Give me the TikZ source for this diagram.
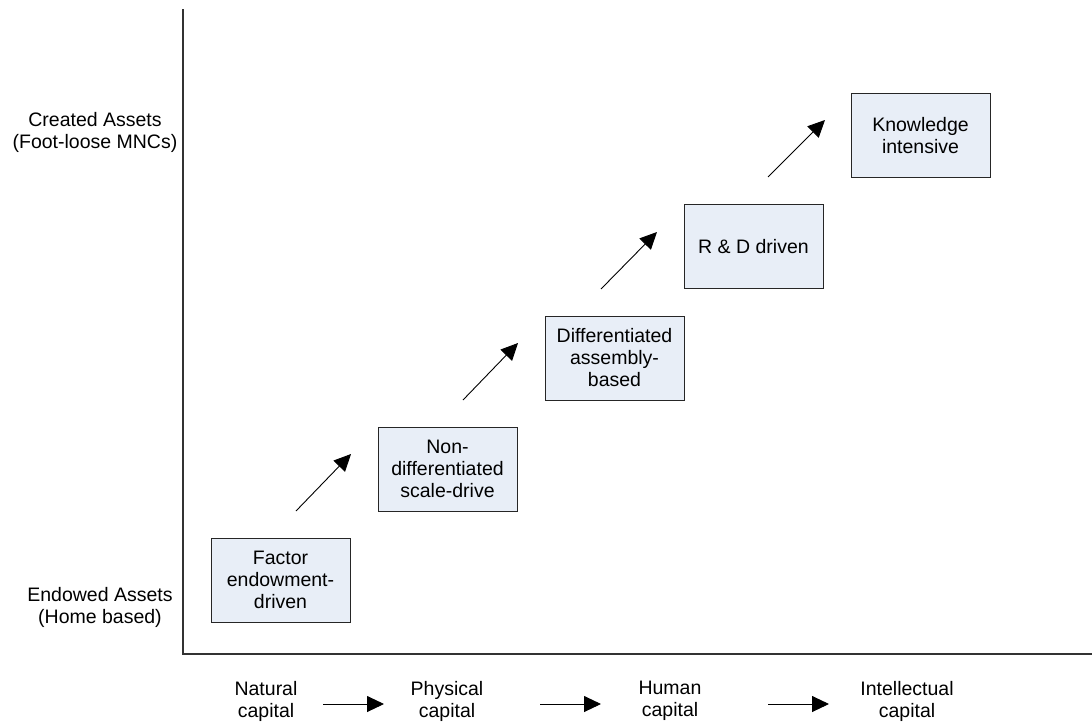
\documentclass[tikz,border=0pt]{standalone}
\usepackage{fontspec}
\setmainfont{Liberation Sans}
\usetikzlibrary{arrows.meta}
\begin{document}
\begin{tikzpicture}[x=1pt,y=-1pt,
  every node/.style={font=\fontsize{19.5}{22}\selectfont, align=center, inner sep=0pt},
  stage/.style={draw=black!85, line width=1pt, fill={rgb,255:red,232;green,238;blue,247},
    minimum width=139pt, minimum height=84pt},
  axis/.style={line width=1.6pt, black!80},
  stepline/.style={line width=0.9pt, -{Triangle[length=17pt,width=16pt]}}
]
\useasboundingbox (0,0) rectangle (1092,726);

% axes
\coordinate (top) at (183,9);
\coordinate (origin) at (183,654);
\coordinate (right) at (1092,654);
\draw[axis] (top) -- (origin) -- (right);

% axis labels
\node (created) at (95,132) {Created Assets\\(Foot-loose MNCs)};
\node (endowed) at (100,607) {Endowed Assets\\(Home based)};

% stages
\node[stage] (s1) at (280.5,580) {Factor\\endowment-\\driven};
\node[stage] (s2) at (447.5,469) {Non-\\differentiated\\scale-drive};
\node[stage] (s3) at (614.5,358) {Differentiated\\assembly-\\based};
\node[stage] (s4) at (753.5,246.5) {R \& D driven};
\node[stage] (s5) at (920.5,135.5) {Knowledge\\intensive};

% upward steps
\coordinate (a1) at (296,511); \coordinate (b1) at (351,454);
\coordinate (a2) at (463,400); \coordinate (b2) at (518,343);
\coordinate (a3) at (601,289); \coordinate (b3) at (657,232);
\coordinate (a4) at (768,177); \coordinate (b4) at (825,120);
\draw[stepline] (a1) -- (b1);
\draw[stepline] (a2) -- (b2);
\draw[stepline] (a3) -- (b3);
\draw[stepline] (a4) -- (b4);

% capital sequence
\node (c1) at (266,701) {Natural\\capital};
\node (c2) at (447,701) {Physical\\capital};
\node (c3) at (670,701) {Human\\capital};
\node (c4) at (907,701) {Intellectual\\capital};
\coordinate (p1) at (323,704); \coordinate (q1) at (384,704);
\coordinate (p2) at (540,704); \coordinate (q2) at (601,704);
\coordinate (p3) at (768,704); \coordinate (q3) at (829,704);
\draw[stepline] (p1) -- (q1);
\draw[stepline] (p2) -- (q2);
\draw[stepline] (p3) -- (q3);
\end{tikzpicture}
\end{document}
